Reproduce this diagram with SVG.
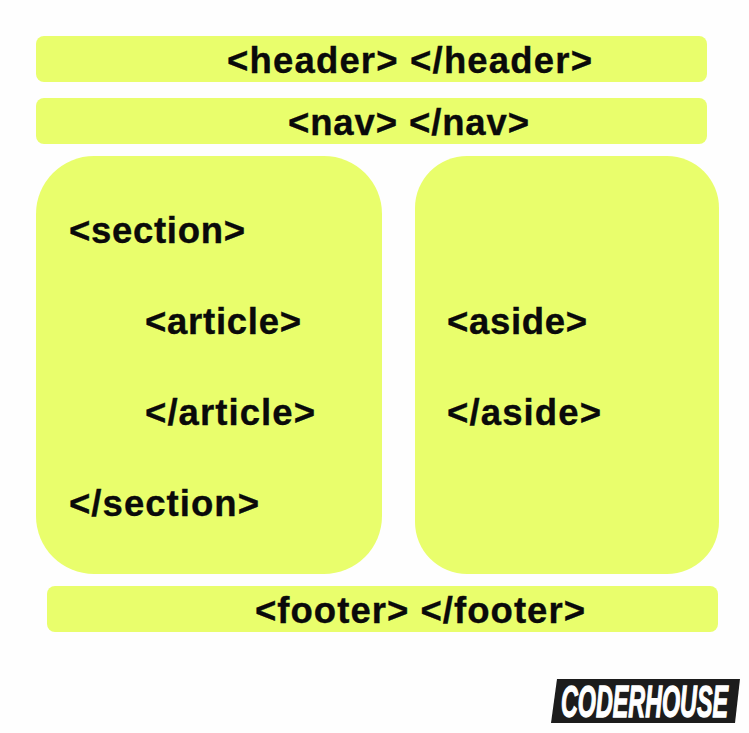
<svg xmlns="http://www.w3.org/2000/svg" width="749" height="733" viewBox="0 0 749 733">
<style>
.b{fill:#e9fe6c}
text{font-family:"Liberation Sans",Arial,sans-serif;font-weight:700;font-size:36.5px;fill:#0a0a0a;stroke:#0a0a0a;stroke-width:.35px}
text.logo{font-size:45px;fill:#fff;stroke:#fff;stroke-width:1.4px;font-style:italic}
</style>
<rect width="749" height="733" fill="#fefefe"/>
<g id="header"><rect class="b" x="36" y="36" width="671" height="46" rx="8"/><text x="227" y="73" textLength="365">&lt;header&gt; &lt;/header&gt;</text></g>
<g id="nav"><rect class="b" x="36" y="98" width="671" height="46" rx="8"/><text x="288" y="135" textLength="241">&lt;nav&gt; &lt;/nav&gt;</text></g>
<g id="section"><rect class="b" x="36" y="156" width="346" height="418" rx="58"/><text x="69" y="243" textLength="176">&lt;section&gt;</text><text x="69" y="516" textLength="190">&lt;/section&gt;</text></g>
<g id="article"><text x="145" y="334" textLength="156">&lt;article&gt;</text><text x="145" y="425" textLength="170">&lt;/article&gt;</text></g>
<g id="aside"><rect class="b" x="415" y="156" width="304" height="418" rx="52"/><text x="447" y="334" textLength="140">&lt;aside&gt;</text><text x="447" y="425" textLength="154">&lt;/aside&gt;</text></g>
<g id="footer"><rect class="b" x="47" y="586" width="671" height="46" rx="8"/><text x="255" y="623" textLength="330">&lt;footer&gt; &lt;/footer&gt;</text></g>
<g id="logo"><polygon points="557,679 740,679 735,723 551,723" fill="#1c1c1c"/><text class="logo" x="561" y="717" textLength="167" lengthAdjust="spacingAndGlyphs">CODERHOUSE</text></g>
</svg>
